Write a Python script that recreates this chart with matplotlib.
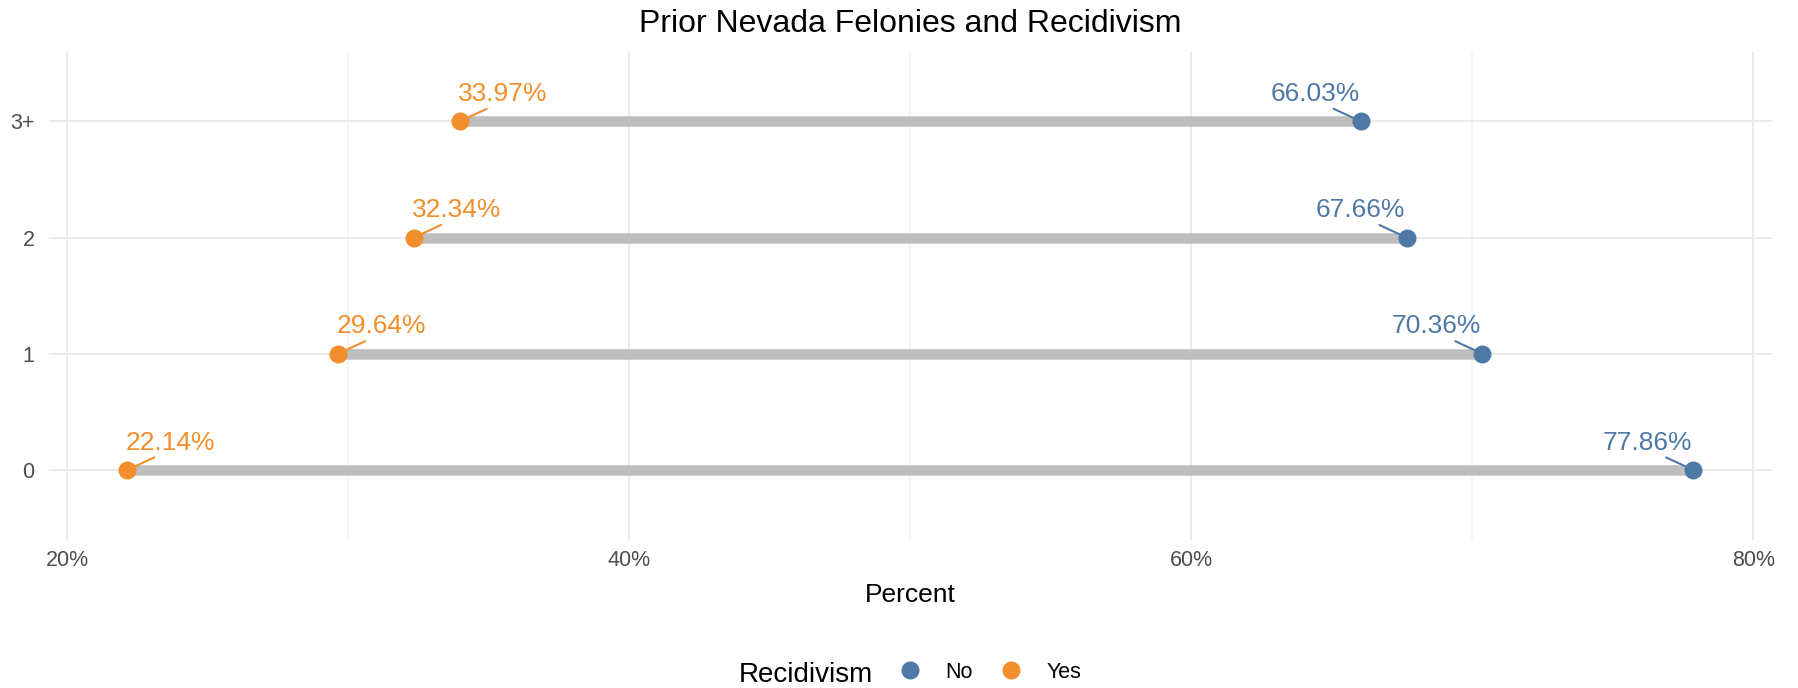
import numpy as np
import matplotlib.pyplot as plt
from matplotlib.lines import Line2D

plt.rcParams['font.family'] = ['Liberation Sans', 'DejaVu Sans']

# data
categories = ['0', '1', '2', '3+']
no_pct = [77.86, 70.36, 67.66, 66.03]
yes_pct = [22.14, 29.64, 32.34, 33.97]

BLUE = '#4E79A7'
ORANGE = '#F28E2B'
GRID = '#EBEBEB'

DPI = 100
W, H = 1798, 688
PX = 72 / DPI  # points per pixel

fig = plt.figure(figsize=(W / DPI, H / DPI), dpi=DPI)
ax = fig.add_axes([48.7 / W, 1 - 539.7 / H, (1771.7 - 48.7) / W, (539.7 - 51.6) / H])

y = np.arange(len(categories))

# dumbbell bars
seg = ax.hlines(y, yes_pct, no_pct, color='#BEBEBE', linewidth=10.5 * PX, zorder=2)
seg.set_capstyle('butt')

ax.scatter(no_pct, y, s=(18 * PX) ** 2, color=BLUE, linewidths=0, zorder=4)
ax.scatter(yes_pct, y, s=(18 * PX) ** 2, color=ORANGE, linewidths=0, zorder=4)

# value labels with little leader lines
for yi, v in zip(y, yes_pct):
    ax.annotate(f'{v:.2f}%', xy=(v, yi), xytext=(43 * PX, 20.3 * PX),
                textcoords='offset points', ha='center', va='baseline',
                color=ORANGE, fontsize=19, zorder=3,
                arrowprops=dict(arrowstyle='-', color=ORANGE, lw=1.5,
                                shrinkA=0, shrinkB=0, relpos=(0.42, 0.05)))
for yi, v in zip(y, no_pct):
    ax.annotate(f'{v:.2f}%', xy=(v, yi), xytext=(-46 * PX, 20.3 * PX),
                textcoords='offset points', ha='center', va='baseline',
                color=BLUE, fontsize=19, zorder=3,
                arrowprops=dict(arrowstyle='-', color=BLUE, lw=1.5,
                                shrinkA=0, shrinkB=0, relpos=(0.615, 0.05)))

ax.set_xlim(19.35, 80.65)
ax.set_ylim(-0.6, 3.6)
ax.set_xticks([20, 40, 60, 80])
ax.set_xticklabels(['20%', '40%', '60%', '80%'])
ax.set_xticks([30, 50, 70], minor=True)
ax.set_yticks(y)
ax.set_yticklabels(categories)

ax.grid(which='major', color=GRID, linewidth=2 * PX, zorder=0)
ax.grid(which='minor', axis='x', color='#F2F2F2', linewidth=1.5 * PX, zorder=0)
ax.set_axisbelow(True)
for s in ax.spines.values():
    s.set_visible(False)
ax.tick_params(which='both', length=0, labelsize=15.5, labelcolor='#4D4D4D')
ax.tick_params(axis='x', pad=10 * PX)
ax.tick_params(axis='y', pad=14 * PX)

cx = (48.7 + 1771.7) / 2 / W
fig.text(cx, 1 - 32 / H, 'Prior Nevada Felonies and Recidivism', ha='center',
         va='baseline', fontsize=23, color='black')
fig.text(cx, 1 - 602.3 / H, 'Percent', ha='center', va='baseline', fontsize=19,
         color='black')

# legend along the bottom
fig.text(739 / W, 1 - 682.3 / H, 'Recidivism', ha='left', va='baseline',
         fontsize=20, color='black')
handles = [Line2D([], [], marker='o', linestyle='none', markersize=18 * PX,
                  markerfacecolor=c, markeredgewidth=0) for c in (BLUE, ORANGE)]
fig.legend(handles, ['No', 'Yes'], loc='center left',
           bbox_to_anchor=(899 / W, 1 - 672 / H), ncol=2, frameon=False,
           fontsize=15.5, handlelength=1.0, handletextpad=1.17,
           columnspacing=1.25, borderpad=0, borderaxespad=0)

fig.savefig('out.png', dpi=DPI)
